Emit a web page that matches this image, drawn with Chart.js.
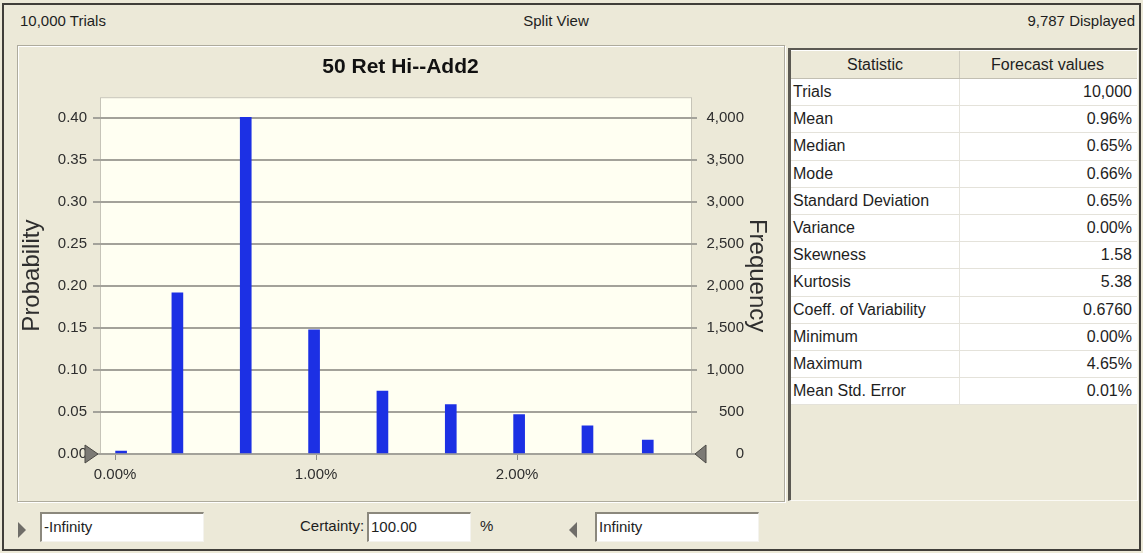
<!DOCTYPE html>
<html>
<head>
<meta charset="utf-8">
<title>50 Ret Hi--Add2</title>
<script src="https://cdn.jsdelivr.net/npm/chart.js@4.4.1/dist/chart.umd.min.js"></script>
<style>
  html, body { margin: 0; padding: 0; }
  body {
    width: 1143px; height: 553px; position: relative; overflow: hidden;
    background: #ECE9D8; color: #1e1e1e;
    font-family: "Liberation Sans", Arial, sans-serif;
  }
  .frame { position: absolute; left: 2px; top: 3px; right: 2px; bottom: 2px; border: 2px solid #403e39; }
  .bar-text { position: absolute; top: 12px; font-size: 15px; line-height: 18px; white-space: nowrap; }
  .chart-panel {
    position: absolute; left: 17px; top: 45px; width: 768px; height: 457px; box-sizing: border-box;
    border: 1px solid #aeab9d; box-shadow: inset 1px 1px 0 #fff, 1px 1px 0 #fff;
  }
  #histogram { position: absolute; left: 18px; top: 46px; }
  .stats-panel {
    position: absolute; left: 788px; top: 48px; width: 350px; height: 453px; box-sizing: border-box;
    border-left: 3px solid #5b5952; border-top: 2px solid #5b5952;
    border-right: 1px solid #fbfaf5; border-bottom: 1px solid #fbfaf5;
    background: #ECE9D8;
  }
  .stats-row { display: flex; height: 27.2px; box-sizing: border-box; font-size: 16px; line-height: 26px; }
  .stats-row div { box-sizing: border-box; white-space: nowrap; overflow: hidden; }
  .stats-row .name { width: 169px; padding-left: 2px; border-right: 1px solid #e6e4dc; }
  .stats-row .value { width: 175px; padding-right: 3px; text-align: right; }
  .stats-row.body { background: #fff; border-bottom: 1px solid #e4e2da; }
  .stats-row.head { height: 29px; line-height: 27px; background: #ECE9D8; border-top: 1px solid #fff; border-bottom: 1px solid #c2bfb2; }
  .stats-row.head div { text-align: center; padding: 0; }
  .stats-row.head .name { border-right: 1px solid #cfccbf; }
  .field {
    position: absolute; top: 512px; height: 30px; box-sizing: border-box; background: #fff;
    border-top: 2px solid #8b887d; border-left: 2px solid #8b887d;
    border-right: 1px solid #f4f3ee; border-bottom: 1px solid #f4f3ee;
    font-size: 15px; line-height: 26px; padding-left: 2px; white-space: nowrap;
  }
  .label { position: absolute; top: 516px; font-size: 15px; line-height: 20px; white-space: nowrap; }
  .arrow { position: absolute; width: 0; height: 0; border-top: 8px solid transparent; border-bottom: 8px solid transparent; }
</style>
</head>
<body>
<div class="frame"></div>
<div class="bar-text" style="left:20px">10,000 Trials</div>
<div class="bar-text" style="left:520px;width:72px;text-align:center">Split View</div>
<div class="bar-text" style="right:8px">9,787 Displayed</div>

<div class="chart-panel"></div>
<canvas id="histogram" width="765" height="454"></canvas>

<div class="stats-panel" id="stats"></div>

<div class="arrow" style="left:18px;top:522px;border-left:8px solid #6f6d68"></div>
<div class="field" style="left:40px;width:164px">-Infinity</div>
<div class="label" style="left:300px">Certainty:</div>
<div class="field" style="left:367px;width:104px">100.00</div>
<div class="label" style="left:480px">%</div>
<div class="arrow" style="left:569px;top:522px;border-right:8px solid #6f6d68"></div>
<div class="field" style="left:595px;width:164px">Infinity</div>

<script>
const trials = 10000;
const binCenters = [0.03, 0.31, 0.65, 0.99, 1.33, 1.67, 2.01, 2.35, 2.65];
const probabilities = [0.0036, 0.192, 0.401, 0.148, 0.075, 0.059, 0.047, 0.0335, 0.0167];
const xTickValues = [0, 1, 2];
const probabilityTicks = [0, 0.05, 0.10, 0.15, 0.20, 0.25, 0.30, 0.35, 0.40];
const frequencyTicks = [0, 500, 1000, 1500, 2000, 2500, 3000, 3500, 4000];
const statNames = ['Trials', 'Mean', 'Median', 'Mode', 'Standard Deviation', 'Variance', 'Skewness',
    'Kurtosis', 'Coeff. of Variability', 'Minimum', 'Maximum', 'Mean Std. Error'];
const statValues = ['10,000', '0.96%', '0.65%', '0.66%', '0.65%', '0.00%', '1.58',
    '5.38', '0.6760', '0.00%', '4.65%', '0.01%'];

document.addEventListener('DOMContentLoaded', function() {
    const textColor = '#2e2e2e';
    const gridColor = '#a3a29a';
    const fontFamily = "'Liberation Sans', Arial, sans-serif";
    const tickFont = { family: fontFamily, size: 15 };
    const titleFont = { family: fontFamily, size: 24 };

    // stats table
    const stats = document.getElementById('stats');
    let html = '<div class="stats-row head"><div class="name">Statistic</div><div class="value">Forecast values</div></div>';
    statNames.forEach(function(name, i) {
        html += '<div class="stats-row body"><div class="name">' + name + '</div><div class="value">' + statValues[i] + '</div></div>';
    });
    stats.innerHTML = html;

    function fixedTicks(values) {
        return function(scale) {
            scale.ticks = values.map(v => ({ value: v }));
        };
    }

    const plotBackground = {
        id: 'plotBackground',
        beforeDraw(chart) {
            const { ctx, chartArea: a } = chart;
            ctx.save();
            ctx.fillStyle = '#FFFFF2';
            ctx.fillRect(a.left, a.top, a.right - a.left, a.bottom - a.top);
            ctx.strokeStyle = '#c6c4b8';
            ctx.lineWidth = 1;
            ctx.strokeRect(a.left + 0.5, a.top + 0.5, a.right - a.left - 1, a.bottom - a.top);
            ctx.restore();
        }
    };

    // frequency labels are right aligned, next to the axis title
    const frequencyLabels = {
        id: 'frequencyLabels',
        afterDraw(chart) {
            const scale = chart.scales.y2;
            const ctx = chart.ctx;
            ctx.save();
            ctx.font = '15px ' + fontFamily;
            ctx.fillStyle = textColor;
            ctx.textAlign = 'right';
            ctx.textBaseline = 'middle';
            scale.ticks.forEach(t => {
                ctx.fillText(t.value.toLocaleString('en-US'), scale.left + 52, scale.getPixelForValue(t.value));
            });
            ctx.restore();
        }
    };

    // the two grab handles sitting on the zero line
    const grabHandles = {
        id: 'grabHandles',
        afterDraw(chart) {
            const { ctx, chartArea: a } = chart;
            const y0 = chart.scales.y.getPixelForValue(0);
            ctx.save();
            ctx.fillStyle = '#7c7a75';
            ctx.strokeStyle = '#4a4844';
            ctx.lineWidth = 1;
            ctx.beginPath();
            ctx.moveTo(a.left - 2, y0);
            ctx.lineTo(a.left - 15, y0 - 9);
            ctx.lineTo(a.left - 15, y0 + 9);
            ctx.closePath();
            ctx.fill();
            ctx.stroke();
            ctx.beginPath();
            ctx.moveTo(a.right + 3, y0);
            ctx.lineTo(a.right + 14, y0 - 9);
            ctx.lineTo(a.right + 14, y0 + 9);
            ctx.closePath();
            ctx.fill();
            ctx.stroke();
            ctx.restore();
        }
    };

    const ctx = document.getElementById('histogram').getContext('2d');
    new Chart(ctx, {
        type: 'bar',
        data: {
            datasets: [{
                data: binCenters.map((x, i) => ({ x: x, y: probabilities[i] })),
                backgroundColor: '#1c30e4',
                borderWidth: 0,
                barThickness: 11
            }]
        },
        options: {
            responsive: false,
            animation: false,
            layout: { padding: 0 },
            plugins: {
                legend: { display: false },
                tooltip: { enabled: false },
                title: {
                    display: true,
                    text: '50 Ret Hi--Add2',
                    color: '#111',
                    font: { family: fontFamily, size: 21, weight: 'bold' },
                    padding: { top: 9, bottom: 17 }
                }
            },
            scales: {
                x: {
                    type: 'linear',
                    offset: false,
                    min: -0.075,
                    max: 2.87,
                    afterBuildTicks: fixedTicks(xTickValues),
                    afterFit: scale => { scale.height = 46; },
                    ticks: { padding: 6, color: textColor, font: tickFont, maxRotation: 0, autoSkip: false,
                        callback: v => v.toFixed(2) + '%' },
                    grid: { offset: false, drawOnChartArea: false, tickLength: 6, color: '#8e8d86', lineWidth: 1 },
                    border: { display: false }
                },
                y: {
                    position: 'left',
                    min: 0,
                    max: 0.425,
                    afterBuildTicks: fixedTicks(probabilityTicks),
                    afterFit: scale => { scale.width = 82; },
                    ticks: { padding: 6, color: textColor, font: tickFont, autoSkip: false,
                        callback: v => v.toFixed(2) },
                    grid: { color: gridColor, lineWidth: 2, tickLength: 7 },
                    border: { display: false },
                    title: { display: true, text: 'Probability', color: textColor, font: titleFont, padding: 0 }
                },
                y2: {
                    type: 'linear',
                    position: 'right',
                    min: 0,
                    max: 0.425 * trials,
                    afterBuildTicks: fixedTicks(frequencyTicks),
                    afterFit: scale => { scale.width = 91; },
                    ticks: { display: false, font: tickFont },
                    grid: { drawOnChartArea: false, color: gridColor, lineWidth: 2, tickLength: 5 },
                    border: { display: false },
                    title: { display: true, text: 'Frequency', color: textColor, font: titleFont,
                        padding: { top: 12, bottom: 0 } }
                }
            }
        },
        plugins: [plotBackground, frequencyLabels, grabHandles]
    });
});
</script>
</body>
</html>
